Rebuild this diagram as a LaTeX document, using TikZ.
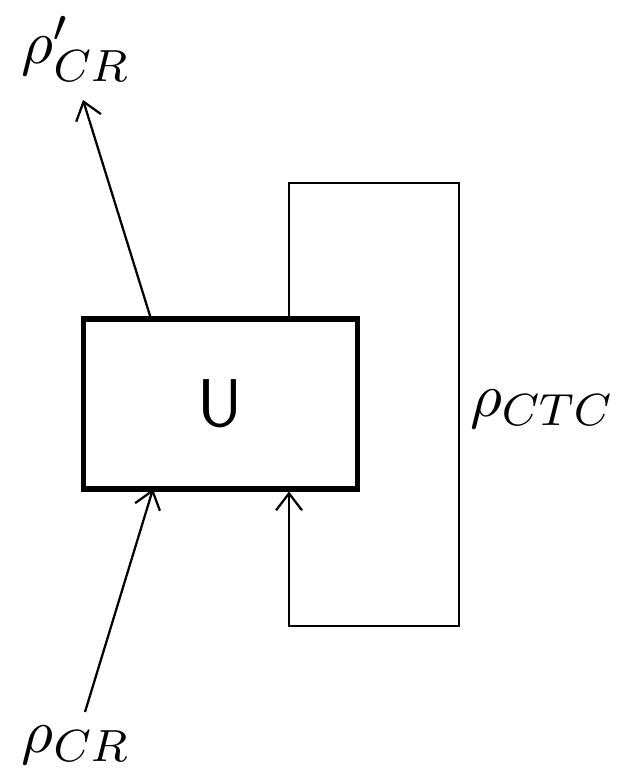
\documentclass[tikz,border=0pt]{standalone}
\usetikzlibrary{positioning,arrows.meta}
\tikzset{
  unitbox/.style={draw, line width=0.9pt, minimum width=1.704cm, minimum height=1.061cm, font=\large\sffamily},
  lbl/.style={font=\fontsize{11}{13}\selectfont},
  wire/.style={-{Straight Barb[length=3pt,width=4.6pt]}}
}
\begin{document}
\begin{tikzpicture}[x=0.624cm,y=0.624cm]
		\useasboundingbox (0,0) rectangle (6.25,7.78);
		
		% the unitary
		\node[unitbox] (U) at (2.205,3.74) {U};
		
		% labels
		\node[lbl] (rhoout) at (0.76,7.29) {$\rho'_{CR}$};
		\node[lbl] (rhoin) at (0.76,0.33) {$\rho_{CR}$};
		\node[lbl] (rhoctc) at (5.42,3.69) {$\rho_{CTC}$};
		
		% open ends of the CR line
		\coordinate (outfoot) at (1.51,4.59);
		\coordinate (outtip) at (0.83,6.78);
		\coordinate (intail) at (0.85,0.66);
		\coordinate (inhead) at (1.53,2.89);
		\draw[wire] (outfoot) -- (outtip);
		\draw[wire] (intail) -- (inhead);
		
		% CTC loop
		\coordinate (lt) at (2.89,5.95);
		\coordinate (rt) at (4.59,5.95);
		\coordinate (rb) at (4.59,1.52);
		\coordinate (lb) at (2.89,1.52);
		\draw[wire] (U.north -| lt) -- (lt) -- (rt) -- (rb) -- (lb) -- (U.south -| lb);
	\end{tikzpicture}
\end{document}
